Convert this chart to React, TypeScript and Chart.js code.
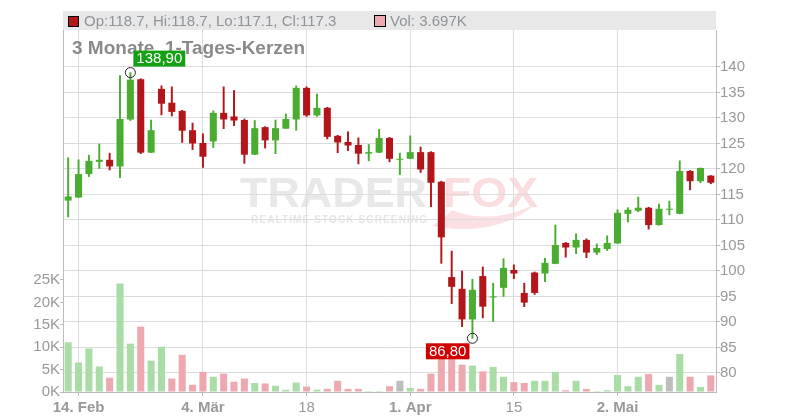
import React, { useEffect, useRef } from 'react';
import { Chart, registerables } from 'chart.js';

Chart.register(...registerables);

// ---- data ----
const dates = [
  '2019-02-13', '2019-02-14', '2019-02-15', '2019-02-18', '2019-02-19', '2019-02-20', '2019-02-21', '2019-02-22',
  '2019-02-25', '2019-02-26', '2019-02-27', '2019-02-28', '2019-03-01', '2019-03-04', '2019-03-05', '2019-03-06',
  '2019-03-07', '2019-03-08', '2019-03-11', '2019-03-12', '2019-03-13', '2019-03-14', '2019-03-15', '2019-03-18',
  '2019-03-19', '2019-03-20', '2019-03-21', '2019-03-22', '2019-03-25', '2019-03-26', '2019-03-27', '2019-03-28',
  '2019-03-29', '2019-04-01', '2019-04-02', '2019-04-03', '2019-04-04', '2019-04-05', '2019-04-08', '2019-04-09',
  '2019-04-10', '2019-04-11', '2019-04-12', '2019-04-15', '2019-04-16', '2019-04-17', '2019-04-18', '2019-04-23',
  '2019-04-24', '2019-04-25', '2019-04-26', '2019-04-29', '2019-04-30', '2019-05-02', '2019-05-03', '2019-05-06',
  '2019-05-07', '2019-05-08', '2019-05-09', '2019-05-10', '2019-05-13', '2019-05-14', '2019-05-15',
];

const opens = [
  113.8, 114.4, 119.0, 121.4, 121.8, 120.5, 129.7, 137.6, 123.2, 135.7, 133.0, 131.4, 127.6, 125.1, 125.4, 131.0,
  130.3, 129.6, 122.8, 128.2, 125.6, 127.9, 129.7, 135.9, 130.5, 132.0, 126.5, 125.3, 124.7, 123.0, 123.2, 126.1,
  121.8, 122.0, 123.3, 123.3, 117.5, 98.8, 96.5, 90.5, 99.0, 94.8, 96.7, 100.2, 95.7, 99.7, 99.5, 101.4,
  105.5, 104.6, 106.1, 103.6, 104.3, 105.4, 111.2, 111.8, 112.4, 109.0, 112.0, 111.2, 119.6, 117.6, 118.7,
];
const highs = [
  122.2, 121.8, 122.7, 124.9, 123.1, 138.3, 138.9, 137.7, 129.6, 136.3, 136.1, 131.5, 129.0, 126.9, 131.4, 136.1,
  135.4, 129.8, 129.5, 128.3, 129.6, 130.8, 136.3, 136.1, 134.7, 132.1, 126.6, 127.3, 126.1, 124.8, 127.8, 126.2,
  123.1, 126.5, 124.3, 123.4, 117.6, 103.9, 100.0, 98.4, 100.8, 97.6, 102.4, 101.2, 97.6, 99.8, 102.5, 109.0,
  105.6, 107.3, 106.3, 105.3, 106.9, 112.0, 112.4, 114.5, 112.5, 113.1, 113.7, 121.6, 119.7, 120.2, 118.7,
];
const lows = [
  110.6, 114.4, 118.5, 120.1, 119.8, 118.3, 129.5, 123.0, 123.2, 130.6, 130.4, 125.2, 123.8, 120.3, 124.2, 127.9,
  128.5, 121.1, 122.8, 124.1, 123.0, 127.9, 127.6, 130.3, 130.3, 125.9, 123.2, 123.6, 121.0, 121.6, 123.2, 121.4,
  118.9, 122.0, 119.3, 112.6, 101.5, 93.6, 89.1, 86.8, 90.8, 90.1, 95.0, 98.5, 93.0, 95.4, 97.9, 101.4,
  102.7, 103.4, 102.6, 103.2, 104.0, 105.4, 109.6, 111.6, 108.2, 109.0, 111.0, 111.2, 115.9, 117.3, 117.1,
];
const closes = [
  114.6, 119.0, 121.6, 121.8, 120.5, 129.8, 137.5, 123.2, 127.6, 132.8, 131.2, 127.5, 125.0, 122.4, 131.0, 129.7,
  129.5, 122.8, 128.0, 125.6, 128.0, 129.8, 135.9, 130.5, 132.0, 126.3, 125.2, 124.6, 123.0, 123.3, 126.1, 122.0,
  122.0, 123.3, 119.9, 117.3, 106.6, 96.9, 90.5, 96.3, 93.0, 95.0, 100.6, 99.5, 93.8, 95.7, 101.6, 105.1,
  104.6, 106.1, 103.6, 104.5, 105.5, 111.4, 112.0, 112.4, 109.0, 112.2, 112.2, 119.6, 117.6, 120.2, 117.3,
];
const volumes = [
  11100, 6600, 9700, 5700, 3200, 24200, 10800, 14600, 7000, 10100, 3000, 8300, 1600, 4500, 3400, 4100,
  2300, 3000, 2000, 1900, 1400, 500, 2100, 1200, 500, 700, 2500, 700, 700, 200, 200, 1300,
  2500, 900, 700, 4100, 9500, 10200, 6100, 5900, 4600, 5600, 3400, 2200, 2000, 2500, 2500, 4500,
  400, 2500, 700, 200, 400, 3800, 1300, 3400, 4000, 1600, 3400, 8500, 3400, 1100, 3697,
];

const xTickDates = ['2019-02-14', '2019-03-04', '2019-03-18', '2019-04-01', '2019-04-15', '2019-05-02'];
const xTickTexts = ['14. Feb', '4. Mär', '18', '1. Apr', '15', '2. Mai'];
const priceTicks = [80, 85, 90, 95, 100, 105, 110, 115, 120, 125, 130, 135, 140];
const volTicks = [0, 5000, 10000, 15000, 20000, 25000];

const titleText = '3 Monate, 1-Tages-Kerzen';

// ---- style ----
const FONT = "'Liberation Sans', Arial, Helvetica, sans-serif";
const GREEN = '#4aad32';
const RED = '#b3161a';
const VGREEN = '#aadca6';
const VRED = '#eea8b0';
const VGRAY = '#bdbdbd';
const GRID = '#dcdcdc';
const AXIS = '#bbbbbb';
const LABEL = '#999999';

function fmt(v: number) {
  return v.toFixed(2).replace('.', ',');
}

export default function App() {
  const ref = useRef<HTMLCanvasElement | null>(null);

  useEffect(() => {
    if (!ref.current) return;
    const n = closes.length;
    const up = closes.map((c, i) => c >= opens[i]);
    const bodyColors = up.map((u) => (u ? GREEN : RED));
    const volColors = closes.map((c, i) => {
      const p = i === 0 ? opens[0] : closes[i - 1];
      return c > p ? VGREEN : c < p ? VRED : VGRAY;
    });
    const tickIdx = xTickDates.map((d) => dates.indexOf(d));
    const hiVal = Math.max(...highs);
    const loVal = Math.min(...lows);
    const hiIdx = highs.indexOf(hiVal);
    const loIdx = lows.indexOf(loVal);
    const last = n - 1;

    const deco = {
      id: 'deco',
      beforeDraw(chart: any) {
        const ctx = chart.ctx;
        const ca = chart.chartArea;
        ctx.save();
        // header band
        ctx.fillStyle = '#e8e8e8';
        ctx.fillRect(ca.left, 11, ca.right - ca.left, 19);
        // legend
        ctx.fillStyle = bodyColors[last];
        ctx.fillRect(68.5, 16.5, 10, 10);
        ctx.strokeStyle = '#000';
        ctx.lineWidth = 1;
        ctx.strokeRect(68.5, 16.5, 10, 10);
        ctx.fillStyle = '#8f949a';
        ctx.font = `15px ${FONT}`;
        ctx.textBaseline = 'middle';
        ctx.textAlign = 'left';
        ctx.fillText(
          `Op:${opens[last].toFixed(1)}, Hi:${highs[last].toFixed(1)}, Lo:${lows[last].toFixed(1)}, Cl:${closes[last].toFixed(1)}`,
          84, 21.5
        );
        ctx.fillStyle = volColors[last];
        ctx.fillRect(374.5, 15.5, 11, 11);
        ctx.strokeRect(374.5, 15.5, 11, 11);
        ctx.fillStyle = '#8f949a';
        ctx.fillText(`Vol: ${(volumes[last] / 1000).toFixed(3)}K`, 390, 21.5);

        // watermark
        ctx.textBaseline = 'alphabetic';
        ctx.font = `bold 42px ${FONT}`;
        const tw = ctx.measureText('TRADER').width;
        ctx.save();
        ctx.translate(240, 207);
        ctx.scale(187 / tw, 1);
        ctx.fillStyle = '#e8e8e8';
        ctx.fillText('TRADER', 0, 0);
        ctx.restore();
        const fw = ctx.measureText('FOX').width;
        ctx.save();
        ctx.translate(443, 207);
        ctx.scale(95 / fw, 1);
        ctx.fillStyle = '#fbdde0';
        ctx.fillText('FOX', 0, 0);
        ctx.restore();
        // swoosh
        ctx.fillStyle = '#fbe1e4';
        ctx.beginPath();
        ctx.moveTo(432, 226);
        ctx.quadraticCurveTo(495, 238, 536, 204);
        ctx.quadraticCurveTo(490, 226, 452, 210);
        ctx.quadraticCurveTo(445, 218, 432, 226);
        ctx.closePath();
        ctx.fill();
        ctx.font = `bold 10px ${FONT}`;
        const target = 176;
        const base = ctx.measureText('REALTIME STOCK SCREENING').width;
        const chars = 'REALTIME STOCK SCREENING'.length;
        (ctx as any).letterSpacing = `${Math.max(0, (target - base) / (chars - 1))}px`;
        ctx.fillStyle = '#e6e6e6';
        ctx.fillText('REALTIME STOCK SCREENING', 251, 223);
        (ctx as any).letterSpacing = '0px';
        ctx.restore();
      },
      beforeDatasetsDraw(chart: any) {
        const ctx = chart.ctx;
        ctx.save();
        ctx.font = `bold 19px ${FONT}`;
        ctx.fillStyle = '#8a8a8a';
        ctx.textBaseline = 'alphabetic';
        ctx.textAlign = 'left';
        ctx.fillText(titleText, 72, 54);
        ctx.restore();
      },
      afterDraw(chart: any) {
        const ctx = chart.ctx;
        const xs = chart.scales.x;
        const ys = chart.scales.y;
        ctx.save();
        ctx.font = `15px ${FONT}`;
        ctx.textBaseline = 'middle';
        ctx.textAlign = 'left';
        // high
        const hx = xs.getPixelForValue(hiIdx);
        const hy = ys.getPixelForValue(hiVal);
        ctx.strokeStyle = '#222';
        ctx.lineWidth = 1;
        ctx.beginPath();
        ctx.arc(hx, hy, 5, 0, Math.PI * 2);
        ctx.stroke();
        const ht = fmt(hiVal);
        const hw = ctx.measureText(ht).width + 6;
        ctx.fillStyle = '#13a013';
        ctx.fillRect(hx + 3, hy - 22, hw, 16);
        ctx.fillStyle = '#fff';
        ctx.fillText(ht, hx + 6, hy - 13.5);
        // low
        const lx = xs.getPixelForValue(loIdx);
        const ly = ys.getPixelForValue(loVal);
        ctx.beginPath();
        ctx.arc(lx, ly, 5, 0, Math.PI * 2);
        ctx.stroke();
        const lt = fmt(loVal);
        const lw = ctx.measureText(lt).width + 6;
        ctx.fillStyle = '#d00000';
        ctx.fillRect(lx - 3 - lw, ly + 5, lw, 16);
        ctx.fillStyle = '#fff';
        ctx.fillText(lt, lx - lw, ly + 13.5);
        ctx.restore();
      },
    };

    const chart = new Chart(ref.current, {
      type: 'bar',
      data: {
        labels: dates,
        datasets: [
          {
            label: 'body',
            data: opens.map((o, i) => [o, closes[i]]) as any,
            backgroundColor: bodyColors,
            yAxisID: 'y',
            grouped: false,
            categoryPercentage: 0.68,
            barPercentage: 1,
            minBarLength: 1,
            order: 0,
          } as any,
          {
            label: 'wick',
            data: lows.map((l, i) => [l, highs[i]]) as any,
            backgroundColor: bodyColors,
            yAxisID: 'y',
            grouped: false,
            barThickness: 1.3,
            order: 1,
          } as any,
          {
            label: 'vol',
            data: volumes,
            backgroundColor: volColors,
            yAxisID: 'yVol',
            grouped: false,
            categoryPercentage: 0.68,
            barPercentage: 1,
            order: 2,
          } as any,
        ],
      },
      options: {
        animation: false,
        responsive: false,
        layout: { padding: { top: 30, left: 0, right: 0, bottom: 0 } },
        plugins: { legend: { display: false }, tooltip: { enabled: false } },
        font: { family: FONT },
        scales: {
          x: {
            type: 'category',
            offset: true,
            grid: { offset: false, color: GRID, tickLength: 4, tickColor: AXIS },
            border: { color: AXIS },
            ticks: {
              autoSkip: false,
              maxRotation: 0,
              padding: 3,
              color: LABEL,
              font: (c: any) => {
                const t = xTickTexts[tickIdx.indexOf(c.tick?.value)] || '';
                return { family: FONT, size: 15, weight: /[A-Za-zä]/.test(t) ? 'bold' : 'normal' };
              },
              callback: (v: any) => xTickTexts[tickIdx.indexOf(v)] ?? '',
            },
            afterBuildTicks: (s: any) => {
              s.ticks = tickIdx.map((i) => ({ value: i }));
            },
            afterFit: (s: any) => {
              s.height = 28;
            },
          },
          y: {
            position: 'right',
            min: 76.27,
            max: 147.25,
            grid: { color: GRID, tickLength: 4, tickColor: AXIS },
            border: { color: AXIS },
            ticks: { color: LABEL, padding: 0, font: { family: FONT, size: 15 } },
            afterBuildTicks: (s: any) => {
              s.ticks = priceTicks.map((v) => ({ value: v }));
            },
            afterFit: (s: any) => {
              s.width = 84;
            },
          },
          yVol: {
            position: 'left',
            min: 0,
            max: 80800,
            grid: { drawOnChartArea: false, tickLength: 3, tickColor: AXIS },
            border: { color: AXIS },
            ticks: {
              color: LABEL,
              padding: 0,
              font: { family: FONT, size: 15 },
              callback: (v: any) => `${Math.round(Number(v) / 1000)}K`,
            },
            afterBuildTicks: (s: any) => {
              s.ticks = volTicks.map((v) => ({ value: v }));
            },
            afterFit: (s: any) => {
              s.width = 63;
            },
          },
        },
      } as any,
      plugins: [deco],
    });
    return () => chart.destroy();
  }, []);

  return (
    <div style={{ position: 'absolute', left: 0, top: 0, width: 800, height: 420, background: '#fff' }}>
      <canvas ref={ref} width={800} height={420} style={{ width: 800, height: 420, display: 'block' }} />
    </div>
  );
}
